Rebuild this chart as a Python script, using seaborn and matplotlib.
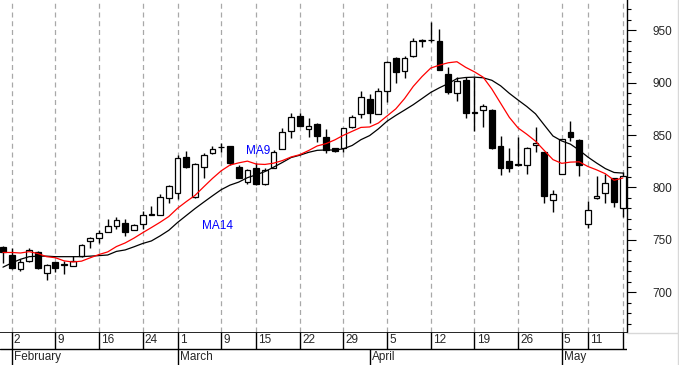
import numpy as np
import pandas as pd
import matplotlib
matplotlib.use("Agg")
import matplotlib.pyplot as plt
import seaborn as sns
from matplotlib.ticker import MultipleLocator
from matplotlib.lines import Line2D

# ---------------- data ----------------
opens = [743, 735.5, 722, 730, 738, 718, 728.5, 726.5, 725, 735, 748.5, 751.5, 758, 763.5,
         766, 759.5, 765, 773.5, 774, 790, 794.5, 829.5, 790.5, 820, 832.5, 838.5, 839.5,
         820, 805.5, 819, 803, 819, 837, 854, 868.5, 855.5, 860.5, 848, 837.5, 837.5, 857.5,
         870, 884.5, 870.5, 892.5, 924, 911, 925, 940, 940.5, 940, 908, 890, 902.5, 871.5,
         874, 874, 839.5, 825.5, 822, 821.5, 840.5, 833.5, 788, 813, 852.5, 845.5, 765, 790,
         794.5, 809, 780]
highs = [744, 742.5, 731.5, 742.5, 739.5, 727, 729, 730, 734.5, 746, 753, 759, 770, 771.5,
         770, 765, 777.5, 782, 793.5, 802.5, 831, 835, 823, 833, 839.5, 842.5, 840, 821.5,
         817.5, 823, 819, 836, 856.5, 871, 871, 866, 861.5, 856, 838, 857, 869, 892, 889.5,
         895, 921, 924.5, 925, 942.5, 941.5, 958, 951, 914.5, 905, 905, 905.5, 879.5, 874.5,
         849.5, 837.5, 848, 838.5, 858, 834, 797.5, 846.5, 863, 846, 787.5, 810.5, 813,
         809.5, 815]
lows = [728, 722, 720, 728.5, 722, 711.5, 719, 717, 725, 734, 742, 747.5, 757.5, 760.5,
        754, 759, 760, 773.5, 773.5, 785, 789, 819, 790, 809, 831.5, 834, 821, 809, 803,
        802.5, 802.5, 818.5, 836.5, 847, 858.5, 848.5, 843, 832.5, 833.5, 833.5, 857, 866,
        861.5, 870, 882, 899.5, 904, 924.5, 934, 939, 912, 889, 882.5, 866.5, 853.5, 858,
        836.5, 811.5, 815, 820.5, 812.5, 834, 785, 777, 812.5, 844.5, 810.5, 761, 789.5,
        785.5, 781.5, 772]
closes = [738, 723, 729, 740.5, 723, 726.5, 723.5, 727, 730, 745, 752, 757, 763, 769,
          757.5, 764.5, 773.5, 774.5, 790.5, 801.5, 828, 820, 822.5, 831, 836.5, 839, 823.5,
          809.5, 816.5, 803, 816.5, 833.5, 853, 867.5, 859, 858.5, 849.5, 836, 835, 856.5,
          867.5, 886.5, 871.5, 892.5, 919.5, 910.5, 924, 940, 940.5, 940.5, 912, 891.5, 901.5,
          871.5, 872, 878, 838, 819, 819, 821, 837.5, 842, 791.5, 793.5, 846, 848.5, 821.5,
          779, 792, 804, 786, 811]
# moving-average values before a full window is available
ma9_head = [738, 738, 737.5, 738.8, 737, 734, 733, 730]
ma14_head = [724, 728, 731.5, 734, 734.5, 734.5, 734, 734, 734, 734, 734.5, 735, 735.6]

day_labels = ["2", "9", "16", "24", "1", "9", "15", "22", "29", "5", "12", "19", "26",
              "5", "11", "17"]
day_pos = [1, 6, 11, 16, 20, 25, 29, 34, 39, 44, 49, 54, 59, 64, 67, 71]
month_labels = ["February", "March", "April", "May"]
month_pos = [1, 20, 42, 64]

# ---------------- derived series ----------------
df = pd.DataFrame({"open": opens, "high": highs, "low": lows, "close": closes})
df["x"] = np.arange(len(df))
ma9 = df["close"].rolling(9).mean().to_numpy()
ma9[:len(ma9_head)] = ma9_head
ma14 = df["close"].rolling(14).mean().to_numpy()
ma14[:len(ma14_head)] = ma14_head
df["ma9"] = ma9
df["ma14"] = ma14

# ---------------- figure ----------------
sns.set_style("white")
plt.rcParams["font.family"] = ["Liberation Sans", "DejaVu Sans"]

W, H = 679, 365
fig = plt.figure(figsize=(W / 100, H / 100), dpi=100)
fig.patch.set_facecolor("white")
axis_y = 331.5
ax = fig.add_axes([0, (H - axis_y) / H, 627 / W, axis_y / H])
axd = fig.add_axes([0, 0, 627 / W, (H - axis_y) / H])

XL = (-0.34, 71.48)
ax.set_xlim(*XL)
ax.set_ylim(662.6, 978.9)

# grid lines (dashed verticals at the day ticks)
for p in day_pos:
    ax.axvline(p, color="#a8a8a8", lw=0.9, ls=(0, (4, 3)), zorder=0)

# candles
x = df["x"].to_numpy()
o = df["open"].to_numpy()
c = df["close"].to_numpy()
up = c >= o
body_lo = np.minimum(o, c)
body_h = np.maximum(np.abs(c - o), 0.4)
ax.vlines(x, df["low"], df["high"], color="black", lw=1.0, zorder=2)
ax.bar(x, body_h, bottom=body_lo, width=0.66,
       color=np.where(up, "white", "black"), edgecolor="black", linewidth=0.9, zorder=3)

# moving averages
sns.lineplot(data=df, x="x", y="ma14", color="black", lw=0.9, ax=ax, zorder=4)
sns.lineplot(data=df, x="x", y="ma9", color="#ff0000", lw=0.9, ax=ax, zorder=5)

ax.text(27.8, 834.4, "MA9", color="#0000ff", fontsize=8.5, ha="left", va="center", zorder=6)
ax.text(22.8, 763.7, "MA14", color="#0000ff", fontsize=8.5, ha="left", va="center", zorder=6)

# right value axis
ax.set_xlabel("")
ax.set_ylabel("")
ax.set_xticks([])
ax.yaxis.tick_right()
ax.yaxis.set_major_locator(MultipleLocator(50))
ax.yaxis.set_minor_locator(MultipleLocator(10))
ax.tick_params(axis="y", which="major", length=6.5, width=0.8, color="black",
               labelsize=8.5, pad=12, right=True, left=False)
ax.tick_params(axis="y", which="minor", length=3, width=0.8, color="black",
               right=True, left=False)
for s in ["left", "top", "bottom"]:
    ax.spines[s].set_visible(False)
ax.spines["right"].set_color("black")
ax.spines["right"].set_linewidth(1.0)
ax.set_facecolor("white")

# date axis panel
axd.set_xlim(*XL)
axd.set_ylim(0, 1)
axd.axis("off")
row = (H - 348.5) / (H - axis_y)
axd.axhline(1.0, color="black", lw=1.2)
axd.axhline(row, color="black", lw=1.0)
off = 0.25
for p, lab in zip(day_pos, day_labels):
    axd.vlines(p, row, 1.0, color="black", lw=1.0)
    axd.text(p + off, (row + 1.0) / 2, lab, fontsize=8.5, ha="left", va="center", clip_on=True)
for p, lab in zip(month_pos, month_labels):
    axd.vlines(p, 0, row, color="black", lw=1.0)
    axd.text(p + off, row / 2, lab, fontsize=8.5, ha="left", va="center", clip_on=True)

# light frame on the right margin
fig.add_artist(Line2D([627 / W, 1], [(H - 332.5) / H] * 2, color="#d8d8d8", lw=1))
fig.add_artist(Line2D([677.5 / W] * 2, [0, 1], color="#d8d8d8", lw=1))

fig.savefig("out.png", dpi=100, facecolor="white")
